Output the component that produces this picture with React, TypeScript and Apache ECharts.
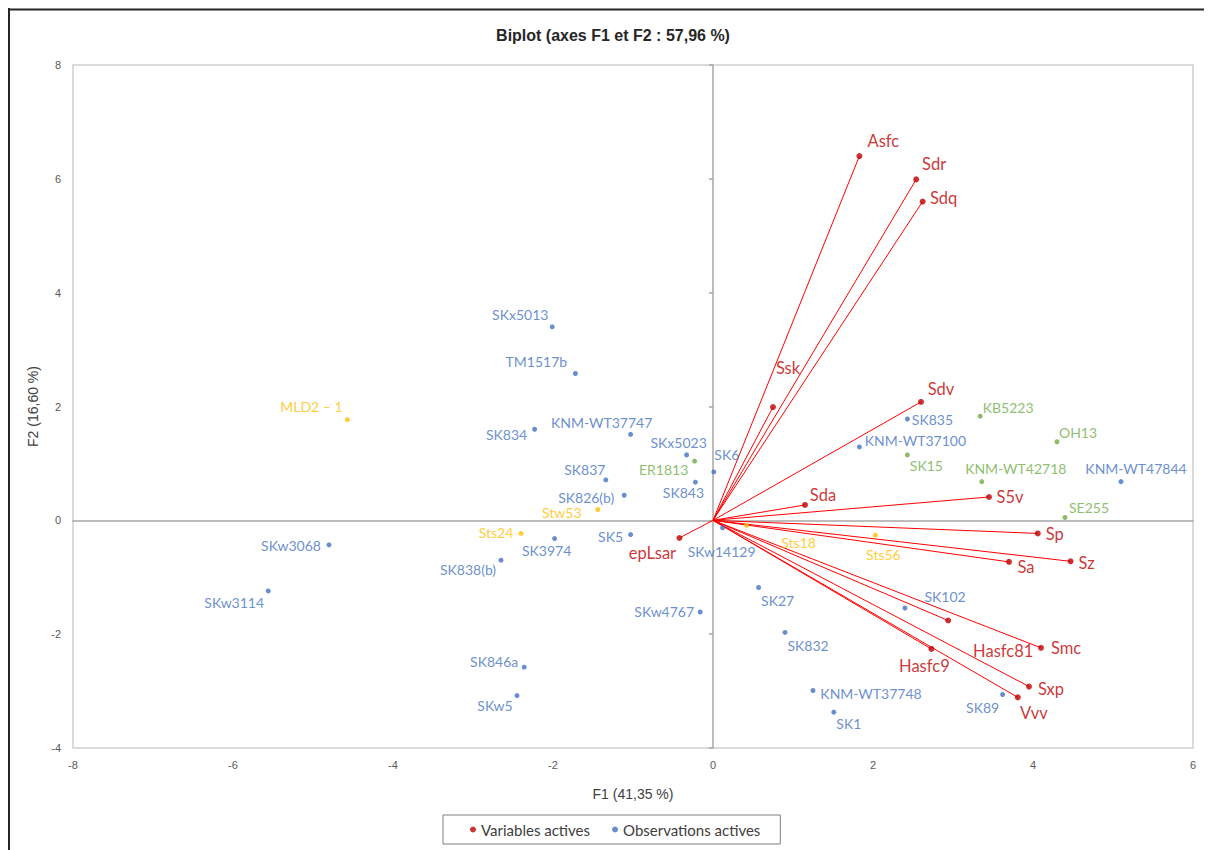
import React, { useEffect, useRef } from 'react';
import * as echarts from 'echarts';

// ---------- DATA ----------
const titleText = 'Biplot (axes F1 et F2 : 57,96 %)';
const xAxisName = 'F1 (41,35 %)';
const yAxisName = 'F2 (16,60 %)';
const xRange = [-8, 6];
const yRange = [-4, 8];
const tickStep = 2;

const varNames = ['Asfc', 'Sdr', 'Sdq', 'Ssk', 'Sdv', 'Sda', 'S5v', 'Sp', 'Sz', 'Sa', 'Hasfc81', 'Smc', 'Hasfc9', 'Sxp', 'Vvv', 'epLsar'];
const varF1 = [1.83, 2.54, 2.62, 0.75, 2.60, 1.15, 3.45, 4.06, 4.47, 3.70, 2.94, 4.10, 2.73, 3.95, 3.81, -0.42];
const varF2 = [6.40, 5.99, 5.60, 1.99, 2.08, 0.27, 0.41, -0.23, -0.72, -0.73, -1.76, -2.24, -2.26, -2.92, -3.11, -0.31];

const obsNames = [
  'SKx5013', 'TM1517b', 'SK834', 'KNM-WT37747', 'SKx5023', 'SK6', 'SK837', 'SK843', 'SK826(b)', 'SK5',
  'SK3974', 'SK838(b)', 'SKw3068', 'SKw3114', 'SKw14129', 'SKw4767', 'SK846a', 'SKw5', 'SK27', 'SK832',
  'KNM-WT37748', 'SK1', 'SK89', 'SK102', 'SK835', 'KNM-WT37100', 'KNM-WT47844',
  'ER1813', 'KB5223', 'OH13', 'SK15', 'KNM-WT42718', 'SE255',
  'MLD2 – 1', 'Stw53', 'Sts24', 'Sts18', 'Sts56',
];
const obsF1 = [
  -2.01, -1.72, -2.23, -1.03, -0.33, 0.01, -1.34, -0.22, -1.11, -1.03,
  -1.98, -2.65, -4.80, -5.56, 0.12, -0.16, -2.36, -2.45, 0.57, 0.90,
  1.25, 1.51, 3.62, 2.40, 2.43, 1.83, 5.10,
  -0.23, 3.34, 4.30, 2.43, 3.36, 4.40,
  -4.57, -1.44, -2.40, 0.42, 2.03,
];
const obsF2 = [
  3.40, 2.58, 1.60, 1.51, 1.15, 0.85, 0.71, 0.67, 0.44, -0.25,
  -0.32, -0.70, -0.43, -1.24, -0.13, -1.61, -2.58, -3.08, -1.18, -1.97,
  -2.99, -3.37, -3.06, -1.54, 1.78, 1.29, 0.68,
  1.04, 1.83, 1.38, 1.15, 0.68, 0.05,
  1.77, 0.19, -0.23, -0.09, -0.26,
];
const obsGroup = [
  'b', 'b', 'b', 'b', 'b', 'b', 'b', 'b', 'b', 'b',
  'b', 'b', 'b', 'b', 'b', 'b', 'b', 'b', 'b', 'b',
  'b', 'b', 'b', 'b', 'b', 'b', 'b',
  'g', 'g', 'g', 'g', 'g', 'g',
  'o', 'o', 'o', 'o', 'o',
];

// ---------- STYLE / LAYOUT ----------
const groupColor: Record<string, string> = { b: '#4472C4', g: '#70AD47', o: '#FFC000' };
const VAR_DOT = '#C00000';
const VAR_LINE = '#FF0000';

const varLabelOffset: Record<string, [number, number]> = {
  Asfc: [24, -15], Sdr: [18, -15], Sdq: [21, -4], Ssk: [15, -39], Sdv: [20, -13], Sda: [18, -10],
  S5v: [21, 0], Sp: [17, 1], Sz: [16, 2], Sa: [17, 5], Hasfc81: [55, 30], Smc: [25, 0],
  Hasfc9: [-7, 17], Sxp: [22, 2], Vvv: [16, 16], epLsar: [-27, 15],
};
const obsLabelOffset: Record<string, [number, number]> = {
  SKx5013: [-32, -12], TM1517b: [-39, -12], SK834: [-28, 5], 'KNM-WT37747': [-29, -12], SKx5023: [-8, -12],
  SK6: [13, -17], SK837: [-21, -10], SK843: [-12, 10], 'SK826(b)': [-38, 2], SK5: [-20, 2],
  SK3974: [-8, 12], 'SK838(b)': [-33, 9], SKw3068: [-38, 1], SKw3114: [-34, 12], SKw14129: [-1, 24],
  SKw4767: [-36, 0], SK846a: [-30, -6], SKw5: [-22, 10], SK27: [19, 13], SK832: [23, 13],
  'KNM-WT37748': [58, 3], SK1: [15, 11], SK89: [-20, 13], SK102: [40, -11], SK835: [25, 0],
  'KNM-WT37100': [56, -6], 'KNM-WT47844': [15, -13], ER1813: [-31, 8], KB5223: [28, -9], OH13: [21, -9],
  SK15: [19, 11], 'KNM-WT42718': [34, -13], SE255: [24, -10], 'MLD2 – 1': [-36, -13], Stw53: [-36, 3],
  Sts24: [-25, -1], Sts18: [52, 17], Sts56: [8, 19],
};

const LABEL_FONT = 'Lato, "Noto Sans", sans-serif';
const AXIS_FONT = '"Liberation Sans", Arial, sans-serif';

export default function App() {
  const ref = useRef<HTMLDivElement>(null);

  useEffect(() => {
    if (!ref.current) return;
    document.documentElement.style.overflow = 'hidden';
    const chart = echarts.init(ref.current, undefined, { renderer: 'svg' });

    const varData = varNames.map((n, i) => ({
      name: n,
      value: [varF1[i], varF2[i]],
      label: { offset: varLabelOffset[n] || [0, 0] },
    }));
    const arrowData = varNames.map((n, i) => ({
      coords: [[0, 0], [varF1[i], varF2[i]]],
    }));
    const obsData = obsNames.map((n, i) => ({
      name: n,
      value: [obsF1[i], obsF2[i]],
      itemStyle: { color: groupColor[obsGroup[i]] },
      label: { offset: obsLabelOffset[n] || [0, 0], color: groupColor[obsGroup[i]] },
    }));

    const zeroLine = { color: '#A6A6A6', width: 1.5 };

    chart.setOption({
      animation: false,
      backgroundColor: '#ffffff',
      grid: {
        left: 65, top: 57, width: 1120, height: 683,
        show: true, borderColor: '#D0D0D0', borderWidth: 1.5, backgroundColor: 'transparent',
        containLabel: false,
      },
      xAxis: [
        {
          type: 'value', min: xRange[0], max: xRange[1], interval: tickStep, position: 'bottom',
          axisLine: { show: false, onZero: false }, axisTick: { show: false }, splitLine: { show: false },
          axisLabel: { margin: 11, color: '#595959', fontSize: 11, fontFamily: AXIS_FONT },
          name: xAxisName, nameLocation: 'middle', nameGap: 39,
          nameTextStyle: { color: '#404040', fontSize: 14, fontFamily: AXIS_FONT },
        },
        {
          type: 'value', min: xRange[0], max: xRange[1], interval: tickStep, position: 'top',
          axisLine: { show: true, onZero: true, onZeroAxisIndex: 0, lineStyle: zeroLine },
          axisTick: { show: false }, axisLabel: { show: false }, splitLine: { show: false },
        },
      ],
      yAxis: [
        {
          type: 'value', min: yRange[0], max: yRange[1], interval: tickStep, position: 'left',
          axisLine: { show: false, onZero: false }, axisTick: { show: false }, splitLine: { show: false },
          axisLabel: { margin: 12, color: '#595959', fontSize: 11, fontFamily: AXIS_FONT },
          name: yAxisName, nameLocation: 'middle', nameGap: 25, nameRotate: 90,
          nameTextStyle: { color: '#404040', fontSize: 14, fontFamily: AXIS_FONT },
        },
        {
          type: 'value', min: yRange[0], max: yRange[1], interval: tickStep, position: 'right',
          axisLine: { show: true, onZero: true, onZeroAxisIndex: 0, lineStyle: zeroLine },
          axisTick: { show: true, inside: true, length: 4, lineStyle: zeroLine },
          axisLabel: { show: false }, splitLine: { show: false },
        },
      ],
      legend: {
        data: ['Variables actives', 'Observations actives'],
        left: 435, top: 807,
        orient: 'horizontal',
        icon: 'circle', itemWidth: 6, itemHeight: 6, itemGap: 22,
        padding: [7, 20, 7, 27],
        borderColor: '#7F7F7F', borderWidth: 1,
        textStyle: { fontFamily: LABEL_FONT, fontSize: 15, color: '#404040' },
      },
      graphic: [
        { type: 'line', shape: { x1: 0, y1: 1.5, x2: 1220, y2: 1.5 }, style: { stroke: '#262626', lineWidth: 2 }, silent: true },
        { type: 'line', shape: { x1: 1, y1: 0, x2: 1, y2: 860 }, style: { stroke: '#262626', lineWidth: 2 }, silent: true },
        {
          type: 'text', x: 605, y: 27, silent: true,
          style: {
            text: titleText, textAlign: 'center', textVerticalAlign: 'middle',
            font: 'bold 16px "Liberation Sans", Arial, sans-serif', fill: '#262626',
          },
        },
      ],
      series: [
        {
          type: 'lines', name: 'arrows', coordinateSystem: 'cartesian2d', xAxisIndex: 0, yAxisIndex: 0,
          silent: true, z: 2,
          lineStyle: { color: VAR_LINE, width: 1, opacity: 1 },
          data: arrowData,
        },
        {
          type: 'scatter', name: 'Observations actives', xAxisIndex: 0, yAxisIndex: 0,
          symbolSize: 5, z: 3,
          itemStyle: { color: groupColor.b },
          label: {
            show: true, position: 'inside', formatter: '{b}', align: 'center', verticalAlign: 'middle',
            fontFamily: LABEL_FONT, fontSize: 14,
          },
          data: obsData,
        },
        {
          type: 'scatter', name: 'Variables actives', xAxisIndex: 0, yAxisIndex: 0,
          symbolSize: 6, z: 4,
          itemStyle: { color: VAR_DOT },
          label: {
            show: true, position: 'inside', formatter: '{b}', align: 'center', verticalAlign: 'middle',
            fontFamily: LABEL_FONT, fontSize: 16.5, color: VAR_DOT,
          },
          data: varData,
        },
      ],
    });

    return () => chart.dispose();
  }, []);

  return <div ref={ref} style={{ width: 1204, height: 842 }} />;
}
